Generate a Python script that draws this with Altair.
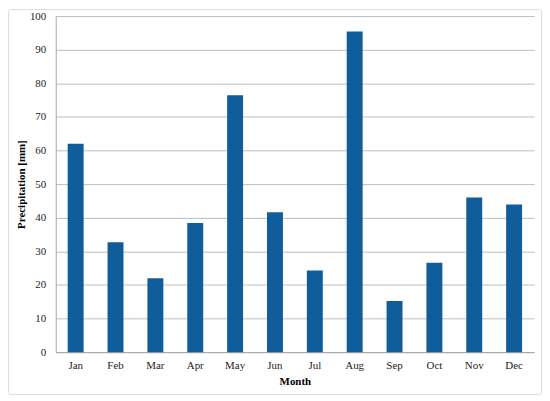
import altair as alt
import pandas as pd

months = ["Jan", "Feb", "Mar", "Apr", "May", "Jun", "Jul", "Aug", "Sep", "Oct", "Nov", "Dec"]
precip = [62.0, 32.7, 22.0, 38.4, 76.4, 41.6, 24.3, 95.4, 15.2, 26.6, 46.0, 43.9]
y_ticks = [0, 10, 20, 30, 40, 50, 60, 70, 80, 90, 100]

df = pd.DataFrame({"Month": months, "Precipitation": precip})

FONT = "Liberation Serif"
W, H = 481, 338

bars = alt.Chart(df).mark_bar(color="#105d9b").encode(
    x=alt.X("Month:N", sort=months,
            scale=alt.Scale(paddingInner=0.6, paddingOuter=0.3),
            axis=alt.Axis(title="Month", labelAngle=0, ticks=False,
                          labelPadding=7, titlePadding=6,
                          domainColor="#a6a6a6", grid=False)),
    y=alt.Y("Precipitation:Q", scale=alt.Scale(domain=[0, 100], nice=False),
            axis=alt.Axis(title="Precipitation [mm]", values=y_ticks, ticks=False,
                          labelPadding=10, titleX=-34, titleY=H / 2,
                          titleAngle=270, titleAlign="center", titleBaseline="middle",
                          domainColor="#a6a6a6", gridColor="#bdbdbd")),
)

border = alt.Chart(pd.DataFrame({"a": [0]})).mark_rect(
    fill=None, stroke="#dcdcdc", strokeWidth=1, cornerRadius=2
).encode(
    x=alt.value(-47.5), x2=alt.value(W + 7.5),
    y=alt.value(-6.5), y2=alt.value(H + 42.5),
)

chart = alt.layer(border, bars).properties(
    width=W, height=H,
    autosize=alt.AutoSizeParams(type="none"),
    padding={"left": 48, "top": 7, "right": 8, "bottom": 43},
).configure_view(stroke=None).configure_axis(
    labelFont=FONT, titleFont=FONT, labelFontSize=11, titleFontSize=11,
    labelColor="#222222", titleColor="#000000", titleFontWeight="bold",
)

chart.save("out.html", embed_options={"renderer": "svg", "actions": False})
